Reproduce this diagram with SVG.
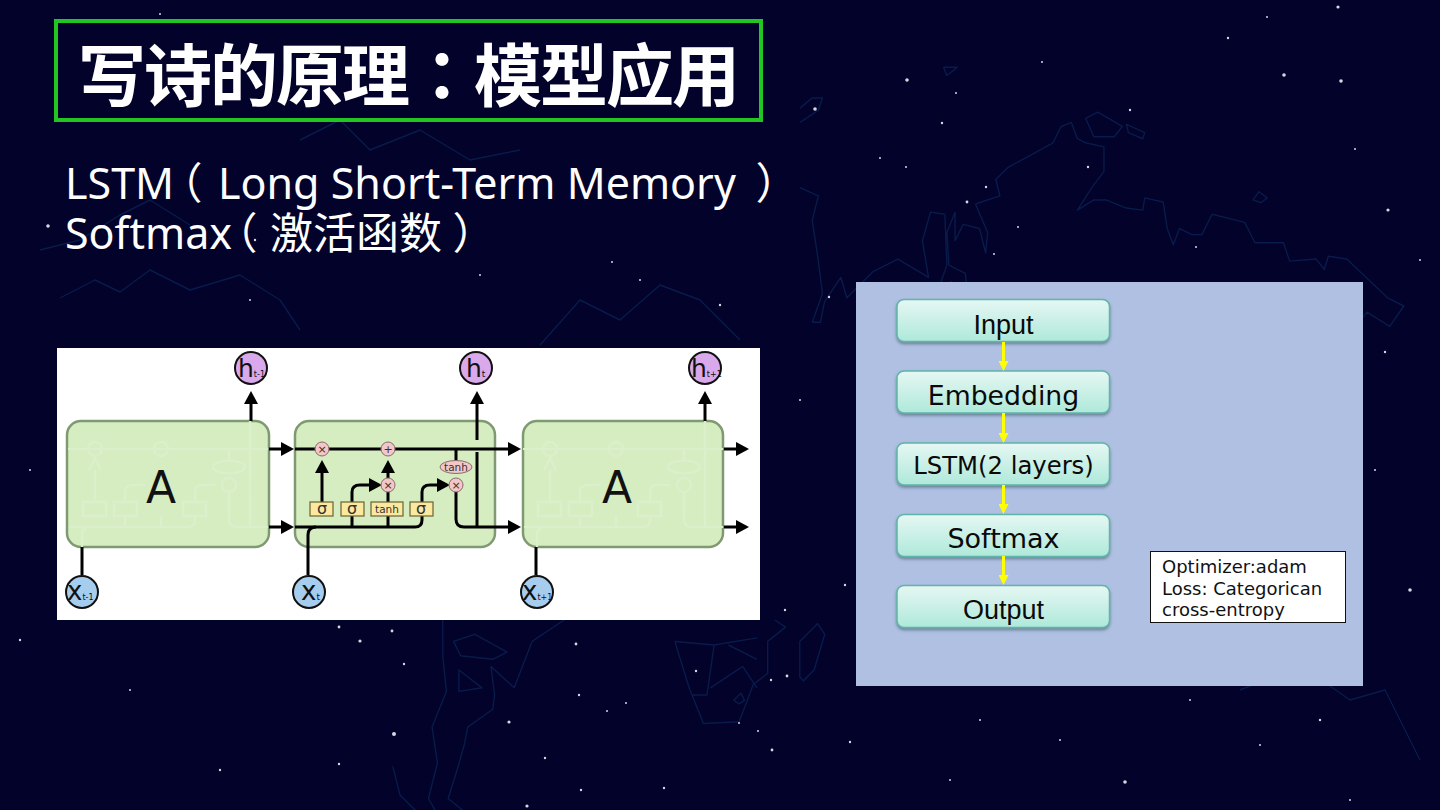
<svg xmlns="http://www.w3.org/2000/svg" width="1440" height="810" viewBox="0 0 1440 810">
<style>
.title{font-family:"Noto Sans CJK SC",sans-serif;font-weight:700;font-size:68px;letter-spacing:-2px;fill:#fff}
.sub{font-family:"Noto Sans","Noto Sans CJK SC",sans-serif;font-size:43px;fill:#fff}
.nodebox{fill:url(#ng);stroke:#5fb5a8;stroke-width:1.5;filter:url(#sh)}
.nt{font-size:27px;fill:#0a0a0a;text-anchor:middle}
.ar{font-family:"Liberation Sans",Arial,sans-serif}
.dj{font-family:"DejaVu Sans",sans-serif}
.note{font-family:"DejaVu Sans",sans-serif;font-size:18px;fill:#111}
.blk{fill:#d6edc1;stroke:#7f9a72;stroke-width:2.5}
.ln{fill:none;stroke:#000;stroke-width:3}
.yl{stroke:#ffff00;stroke-width:3;fill:none;marker-end:url(#ya)}
.op{fill:#f3c6c8;stroke:#8a6a6a;stroke-width:1}
.sg{fill:#fbe9a0;stroke:#6b6233;stroke-width:1.2}
.opt{font-family:"DejaVu Sans",sans-serif;text-anchor:middle;fill:#333}
.hc{fill:#d9a9ec;stroke:#111;stroke-width:2}
.xc{fill:#a6cdee;stroke:#111;stroke-width:2}
.big{font-family:"DejaVu Sans",sans-serif;fill:#111}
.ghost{fill:none;stroke:#dcefcc;stroke-width:2.2}
.star{fill:#d5d8e2}
.map{fill:none;stroke:#081b4a;stroke-linejoin:round}
</style>
<defs>
<linearGradient id="ng" x1="0" y1="0" x2="0" y2="1"><stop offset="0" stop-color="#e6f7f3"/><stop offset="1" stop-color="#aee9da"/></linearGradient>
<filter id="sh" x="-5%" y="-15%" width="110%" height="135%"><feDropShadow dx="0" dy="2" stdDeviation="1.5" flood-color="#3c5a6a" flood-opacity="0.6"/></filter>
<marker id="ya" markerWidth="10" markerHeight="10" refX="6" refY="5" orient="auto" markerUnits="userSpaceOnUse"><path d="M0 0L10 5L0 10Z" fill="#ffff00"/></marker>
<marker id="ka" markerWidth="14" markerHeight="14" refX="7" refY="7" orient="auto" markerUnits="userSpaceOnUse"><path d="M0 0L13 7L0 14Z" fill="#000"/></marker>
<g id="gh">
<path d="M295 449H495M296 527H415Q422 527 422 520V516M309 547V535Q309 527 317 527M322 502V470M352 527V516M352 502V492Q352 485 360 485H372M388 527V516M422 502V492Q422 485 430 485H442M456 449V461M456 492V519Q456 527 464 527H495M477 421V527"/>
<path d="M316 470L322 458L328 470"/>
<rect x="310" y="502" width="23" height="14"/><rect x="341" y="502" width="23" height="14"/><rect x="410" y="502" width="23" height="14"/>
<circle cx="322" cy="449" r="7"/><circle cx="388" cy="449" r="7"/><circle cx="456" cy="485" r="7"/><ellipse cx="456" cy="467" rx="16" ry="6.500"/>
</g>
</defs>
<rect id="bg" width="1440" height="810" fill="#02022a"/>
<g id="map" class="map">
<g transform="translate(800 0) scale(.408)" stroke-width="3.500">
<path d="M430 500L490 480 480 440 510 410 570 378 620 350 640 310 665 300 680 340 700 350 745 360 745 420 715 460 680 515 720 490 750 490 800 510 840 515 845 485 890 495 900 560 915 600 930 560 960 575 985 575 1010 525 1090 545 1115 595 1185 595 1200 640 1265 635 1285 660 1295 628 1340 635 1440 730 1480 750 1445 800 1390 765 1360 800"/>
<path d="M430 500L460 570 455 620 440 560 400 550 380 590 380 520 360 570 365 650 405 670 410 710 370 690 345 745 330 735 360 650 355 525 320 520 300 590 315 680 240 635 180 665 115 730 100 680 60 740 50 790 30 790"/>
<path d="M0 460L45 480 30 540 45 640 55 720 30 790M0 300L45 270 55 240 30 240 0 265M1110 490L1125 470 1145 485 1130 497ZM800 305L845 325 840 340 805 325ZM700 290L730 275 790 310 770 335 720 335ZM352 165L385 165 360 185Z"/>
</g>
<g transform="translate(300 620) scale(.357)" stroke-width="4">
<path d="M400 0L400 100 410 200 370 300 385 400 360 500 385 545 470 545 415 500 440 420 460 350 470 300 540 250 545 210 535 130 600 190 650 60 740 0M445 140L510 190 445 200ZM430 60L490 40 580 90 540 110 450 100ZM260 410L280 490 340 550"/>
<path d="M1050 60L1090 190 1130 290 1230 285 1270 180 1310 150 1310 60 1360 20 1330 0M1050 60L1160 70 1280 50M1160 70L1140 210 1100 210M1280 110L1200 70M1240 130L1150 190M1240 130L1280 190M1400 160L1400 60 1450 10 1470 40 1440 140 1410 170ZM1215 225L1235 205 1245 225 1230 235Z"/>
</g>
<path stroke-width="1.400" d="M60 298L95 280 120 292 150 270 190 290 240 275 280 300 300 330M40 250L80 240 120 215 150 200 190 225M540 345L580 300 620 320 660 285 700 300 740 340M300 140L340 120 370 150 420 130 470 160 520 150M1240 690L1300 665 1350 700 1385 690 1420 760"/>
</g>
<g id="stars">
<circle class="star" cx="907" cy="80" r="1.800"/><circle class="star" cx="815" cy="109" r="1.800"/><circle class="star" cx="956" cy="93" r="1"/><circle class="star" cx="942" cy="123" r="1.200"/><circle class="star" cx="880" cy="158" r="1"/><circle class="star" cx="906" cy="167" r="1"/><circle class="star" cx="986" cy="187" r="1.200"/><circle class="star" cx="967" cy="202" r="1.400"/><circle class="star" cx="1018" cy="227" r="1"/><circle class="star" cx="1088" cy="167" r="1.200"/><circle class="star" cx="1130" cy="110" r="1.200"/><circle class="star" cx="1284" cy="75" r="1.800"/><circle class="star" cx="1341" cy="81" r="1.800"/><circle class="star" cx="1228" cy="38" r="1.200"/><circle class="star" cx="1338" cy="7" r="1.600"/><circle class="star" cx="1267" cy="17" r="1"/><circle class="star" cx="1388" cy="210" r="1.600"/><circle class="star" cx="1355" cy="149" r="1"/><circle class="star" cx="1196" cy="247" r="1"/><circle class="star" cx="829" cy="297" r="1.200"/><circle class="star" cx="994" cy="254" r="1"/><circle class="star" cx="1042" cy="62" r="1"/>
<circle class="star" cx="339" cy="627" r="1.400"/><circle class="star" cx="360" cy="641" r="1.600"/><circle class="star" cx="392" cy="631" r="1.400"/><circle class="star" cx="404" cy="664" r="1.200"/><circle class="star" cx="394" cy="734" r="2"/><circle class="star" cx="339" cy="764" r="1.200"/><circle class="star" cx="509" cy="722" r="1.600"/><circle class="star" cx="545" cy="758" r="1.200"/><circle class="star" cx="581" cy="790" r="1.200"/><circle class="star" cx="527" cy="806" r="1.600"/><circle class="star" cx="576" cy="644" r="1.400"/><circle class="star" cx="579" cy="695" r="1.200"/><circle class="star" cx="664" cy="788" r="1.200"/><circle class="star" cx="772" cy="750" r="1.400"/><circle class="star" cx="758" cy="731" r="1"/><circle class="star" cx="787" cy="676" r="1.400"/><circle class="star" cx="771" cy="680" r="1.200"/><circle class="star" cx="696" cy="671" r="1.200"/><circle class="star" cx="607" cy="711" r="1"/><circle class="star" cx="626" cy="703" r="1"/><circle class="star" cx="739" cy="723" r="1"/>
<circle class="star" cx="1125" cy="782" r="1.800"/><circle class="star" cx="1410" cy="590" r="1.800"/><circle class="star" cx="1385" cy="352" r="1.200"/><circle class="star" cx="1375" cy="470" r="1"/><circle class="star" cx="1420" cy="260" r="1"/><circle class="star" cx="30" cy="470" r="1"/><circle class="star" cx="20" cy="640" r="1.200"/><circle class="star" cx="130" cy="690" r="1"/><circle class="star" cx="220" cy="770" r="1.200"/><circle class="star" cx="850" cy="742" r="1.200"/><circle class="star" cx="980" cy="720" r="1"/><circle class="star" cx="1260" cy="745" r="1"/><circle class="star" cx="1350" cy="800" r="1"/><circle class="star" cx="48" cy="226" r="1.800"/><circle class="star" cx="255" cy="240" r="1.200"/><circle class="star" cx="480" cy="275" r="1"/><circle class="star" cx="612" cy="262" r="1"/><circle class="star" cx="720" cy="305" r="1.200"/><circle class="star" cx="800" cy="400" r="1"/><circle class="star" cx="845" cy="585" r="1.200"/><circle class="star" cx="785" cy="610" r="1.200"/><circle class="star" cx="640" cy="280" r="1"/><circle class="star" cx="250" cy="300" r="1"/><circle class="star" cx="160" cy="14" r="1"/><circle class="star" cx="1060" cy="740" r="1"/><circle class="star" cx="1190" cy="700" r="1"/><circle class="star" cx="1320" cy="720" r="1.200"/><circle class="star" cx="950" cy="780" r="1"/>
</g>
<g id="title">
<rect x="56" y="21" width="705" height="99" fill="none" stroke="#22c522" stroke-width="4"/>
<text class="title" x="78" y="101">写诗的原理<tspan font-family="Noto Sans CJK TC">：</tspan>模型应用</text>
</g>
<g id="subtitle">
<text class="sub" x="65" y="199">LSTM<tspan x="159.500" font-family="Noto Sans CJK TC">（</tspan><tspan x="218">Long Short-Term Memory</tspan><tspan x="755.500" font-family="Noto Sans CJK TC">）</tspan></text>
<text class="sub" x="65" y="249">Softmax<tspan x="214.500" font-family="Noto Sans CJK TC">（</tspan><tspan x="270">激活函数</tspan><tspan x="452.500" font-family="Noto Sans CJK TC">）</tspan></text>
</g>
<g id="lstm-figure">
<rect x="57" y="348" width="703" height="272" fill="#fff"/>
<g id="block-left"><rect class="blk" x="67" y="421" width="202" height="126" rx="14"/><use href="#gh" class="ghost" x="-227"/><text class="big" x="161" y="503" font-size="44" text-anchor="middle">A</text></g>
<g id="block-middle"><rect class="blk" x="295" y="421" width="200" height="126" rx="14"/></g>
<g id="block-right"><rect class="blk" x="523" y="421" width="200" height="126" rx="14"/><use href="#gh" class="ghost" x="228"/><text class="big" x="617" y="503" font-size="44" text-anchor="middle">A</text></g>
<g id="lstm-connectors">
<path class="ln" d="M251 421V397" marker-end="url(#ka)"/>
<path class="ln" d="M477 440V397" marker-end="url(#ka)"/>
<path class="ln" d="M705 421V397" marker-end="url(#ka)"/>
<path class="ln" d="M477 527V452"/>
<path class="ln" d="M82 547V575"/><path class="ln" d="M536 547V575"/>
<path class="ln" d="M308 575V535Q308 527 316 527"/>
<path class="ln" d="M269 449H288" marker-end="url(#ka)"/><path class="ln" d="M269 527H288" marker-end="url(#ka)"/>
<path class="ln" d="M295 449H515" marker-end="url(#ka)"/>
<path class="ln" d="M295 527H415Q422 527 422 520V516"/>
<path class="ln" d="M322 502V466" marker-end="url(#ka)"/>
<path class="ln" d="M352 527V516M352 502V492Q352 485 360 485H376" marker-end="url(#ka)"/>
<path class="ln" d="M388 527V516M388 502V492"/>
<path class="ln" d="M388 478V466" marker-end="url(#ka)"/>
<path class="ln" d="M422 502V492Q422 485 430 485H444" marker-end="url(#ka)"/>
<path class="ln" d="M456 449V461"/><path class="ln" d="M456 492V519Q456 527 464 527H515" marker-end="url(#ka)"/>
<path class="ln" d="M724 449H743" marker-end="url(#ka)"/><path class="ln" d="M724 527H743" marker-end="url(#ka)"/>
</g>
<g id="ops">
<circle class="op" cx="322" cy="449" r="7"/><text class="opt" x="322" y="453" font-size="11">×</text>
<circle class="op" cx="388" cy="449" r="7"/><text class="opt" x="388" y="453" font-size="11">+</text>
<circle class="op" cx="388" cy="485" r="7"/><text class="opt" x="388" y="489" font-size="11">×</text>
<circle class="op" cx="456" cy="485" r="7"/><text class="opt" x="456" y="489" font-size="11">×</text>
<ellipse class="op" cx="456" cy="467" rx="16" ry="6.500"/><text class="opt" x="456" y="471" font-size="10.500">tanh</text>
<rect class="sg" x="310" y="502" width="23" height="14"/><text class="opt" x="322" y="514" font-size="16">σ</text>
<rect class="sg" x="341" y="502" width="23" height="14"/><text class="opt" x="352" y="514" font-size="16">σ</text>
<rect class="sg" x="371" y="502" width="32" height="14"/><text class="opt" x="387" y="513" font-size="10.500">tanh</text>
<rect class="sg" x="410" y="502" width="23" height="14"/><text class="opt" x="421" y="514" font-size="16">σ</text>
</g>
<g id="h-t-1"><circle class="hc" cx="251" cy="368" r="16"/><text class="big" x="238" y="377" font-size="25">h<tspan font-size="8">t-1</tspan></text></g>
<g id="h-t"><circle class="hc" cx="476" cy="368" r="16"/><text class="big" x="466" y="377" font-size="25">h<tspan font-size="9">t</tspan></text></g>
<g id="h-t1"><circle class="hc" cx="705" cy="368" r="16"/><text class="big" x="691" y="377" font-size="25">h<tspan font-size="8">t+1</tspan></text></g>
<g id="x-t-1"><circle class="xc" cx="82" cy="592" r="16"/><text class="big" x="67" y="600" font-size="26">x<tspan font-size="8">t-1</tspan></text></g>
<g id="x-t"><circle class="xc" cx="309" cy="592" r="16"/><text class="big" x="301" y="600" font-size="26">x<tspan font-size="9">t</tspan></text></g>
<g id="x-t1"><circle class="xc" cx="537" cy="592" r="16"/><text class="big" x="522" y="600" font-size="26">x<tspan font-size="8">t+1</tspan></text></g>
</g>
<rect id="panel" x="856" y="282" width="507" height="404" fill="#afc0e2"/>
<g id="node-input"><rect class="nodebox" x="897" y="299.500" width="212.500" height="42" rx="7"/><text class="nt ar" x="1003.500" y="334">Input</text></g>
<g id="node-embedding"><rect class="nodebox" x="897" y="371" width="212.500" height="42" rx="7"/><text class="nt dj" x="1003.500" y="405" style="font-size:26.700px">Embedding</text></g>
<g id="node-lstm"><rect class="nodebox" x="897" y="443" width="212.500" height="42" rx="7"/><text class="nt dj" x="1003.500" y="474" style="font-size:24.300px">LSTM(2 layers)</text></g>
<g id="node-softmax"><rect class="nodebox" x="897" y="514.500" width="212.500" height="42" rx="7"/><text class="nt dj" x="1003.500" y="548">Softmax</text></g>
<g id="node-output"><rect class="nodebox" x="897" y="585.500" width="212.500" height="42" rx="7"/><text class="nt ar" x="1003.500" y="619">Output</text></g>
<g id="flow-connectors">
<path class="yl" d="M1003.500 342V367"/><path class="yl" d="M1003.500 413V439"/><path class="yl" d="M1003.500 485V510"/><path class="yl" d="M1003.500 556V581"/>
</g>
<g id="note"><rect x="1150.500" y="551.500" width="195" height="71" fill="#fff" stroke="#111" stroke-width="1"/>
<text class="note" x="1162" y="573">Optimizer:adam</text><text class="note" x="1162" y="595">Loss: Categorican</text><text class="note" x="1162" y="616">cross-entropy</text></g>
</svg>
